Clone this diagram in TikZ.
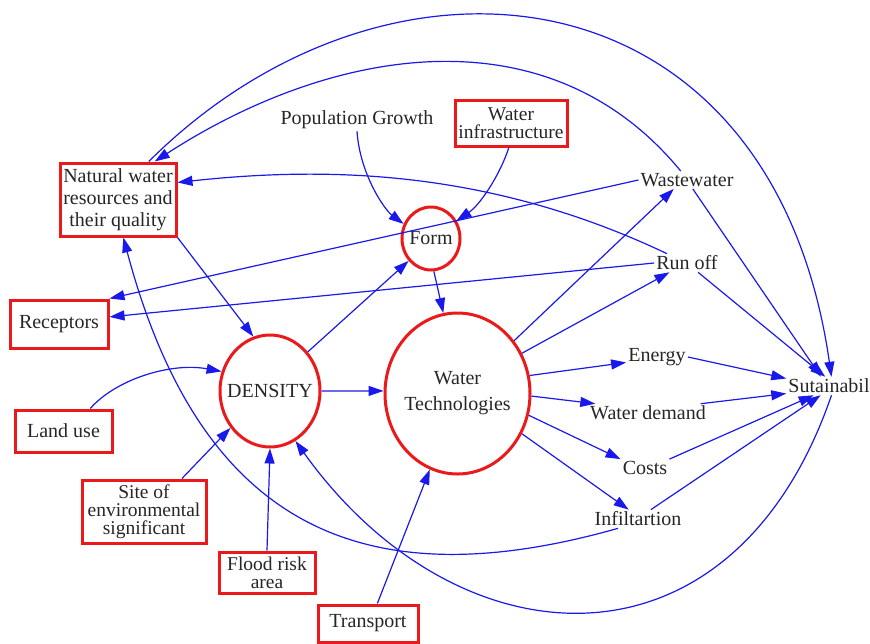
\documentclass[tikz,border=0pt]{standalone}
\usepackage{fontspec}
\setmainfont{Liberation Serif}
\usetikzlibrary{arrows.meta,shapes.geometric}
\definecolor{lnblue}{RGB}{25,25,235}
\definecolor{bxred}{RGB}{235,25,25}
\begin{document}
\begin{tikzpicture}[x=1pt,y=-1pt,
  every node/.style={font=\fontsize{20}{22}\selectfont, text=black!85},
  txt/.style={inner sep=2pt},
  redbox/.style={draw=bxred, line width=3pt, inner sep=0pt, align=center},
  tight/.style={font=\fontsize{19.5}{18}\selectfont},
  ell/.style={draw=bxred, line width=3pt, ellipse, inner sep=0pt},
  conn/.style={draw=lnblue, line width=1.2pt, -{Triangle[length=15pt,width=10pt]}}]
\useasboundingbox (0,0) rectangle (870,643);

% nodes
\node[redbox, minimum width=116pt, minimum height=73pt] (nat) at (118,199.5) {Natural water\\resources and\\their quality};
\node[redbox, minimum width=98pt, minimum height=48pt] (rec) at (59,324) {Receptors};
\node[redbox, minimum width=97pt, minimum height=42pt] (lu) at (63.5,431) {Land use};
\node[redbox, tight, minimum width=124pt, minimum height=63pt] (site) at (144,511.5) {Site of\\environmental\\significant};
\node[redbox, tight, minimum width=96pt, minimum height=41pt] (flood) at (267,572.5) {Flood risk\\area};
\node[redbox, minimum width=100pt, minimum height=37pt] (tr) at (368,623.5) {Transport};
\node[redbox, tight, minimum width=112pt, minimum height=46pt] (winf) at (511,123) {Water\\infrastructure};
\node[txt] (pop) at (357,120) {Population Growth};
\node[ell, minimum width=58pt, minimum height=63pt] (form) at (431,238.5) {\makebox[0pt]{Form}};
\node[ell, minimum width=100pt, minimum height=112pt] (den) at (270,391) {\makebox[0pt]{DENSITY}};
\node[ell, minimum width=145pt, minimum height=161pt] (wt) at (457.5,393.5) {\makebox[0pt]{\raisebox{-4pt}{\begin{tabular}{@{}c@{}}Water\\[4pt]Technologies\end{tabular}}}};
\node[txt] (ww) at (687,180) {Wastewater};
\node[txt] (ro) at (687,263) {Run off};
\node[txt] (en) at (657,357) {Energy};
\node[txt] (wd) at (648,413) {Water demand};
\node[txt] (co) at (645,468) {Costs};
\node[txt] (inf) at (638,519) {Infiltartion};
\node[txt] (sut) at (829,386) {Sutainabil};

% connectors
\draw[conn] (nat.51) .. controls (388,-77) and (772,-38) .. (sut.75);
\draw[conn] (ww.125) .. controls (546,7) and (328,49) .. (nat.46);
\draw[conn] (ro.155) .. controls (491,170) and (329,166) .. (nat.16);
\draw[conn] (ww.west) -- (rec.north east);
\draw[conn] (ro.west) -- (rec.8);
\draw[conn] (nat.south east) -- (den.107);
\draw[conn] (inf.-155) .. controls (365,600) and (201,529) .. (nat.-82);
\draw[conn] (sut.-75) .. controls (732,685) and (457,667) .. (den.-63);
\draw[conn] (lu.40) .. controls (115,380) and (170,362) .. (den.158);
\draw[conn] (site.41) -- (den.223);
\draw[conn] (flood.north) -- (den.south);
\draw[conn] (den.east) -- (wt.178);
\draw[conn] (den.46) -- (form.225);
\draw[conn] (pop.south) .. controls (360,175) and (385,210) .. (form.152);
\draw[conn] (winf.-95) .. controls (500,175) and (480,205) .. (form.35);
\draw[conn] (form.-85) -- (wt.100);
\draw[conn] (tr.65) -- (wt.-110);
\draw[conn] (wt.43) -- (ww.214);
\draw[conn] (wt.32) -- (ro.208);
\draw[conn] (wt.14) -- (en.190);
\draw[conn] (wt.-2) -- (wd.170);
\draw[conn] (wt.-17) -- (co.160);
\draw[conn] (wt.-32) -- (inf.135);
\draw[conn] (en.east) -- (sut.170);
\draw[conn] (wd.10) -- (sut.190);
\draw[conn] (co.20) -- (sut.211);
\draw[conn] (inf.36) -- (sut.228);
\draw[conn] (ww.-57) -- (sut.131);
\draw[conn] (ro.-40) -- (sut.112);
\end{tikzpicture}
\end{document}
